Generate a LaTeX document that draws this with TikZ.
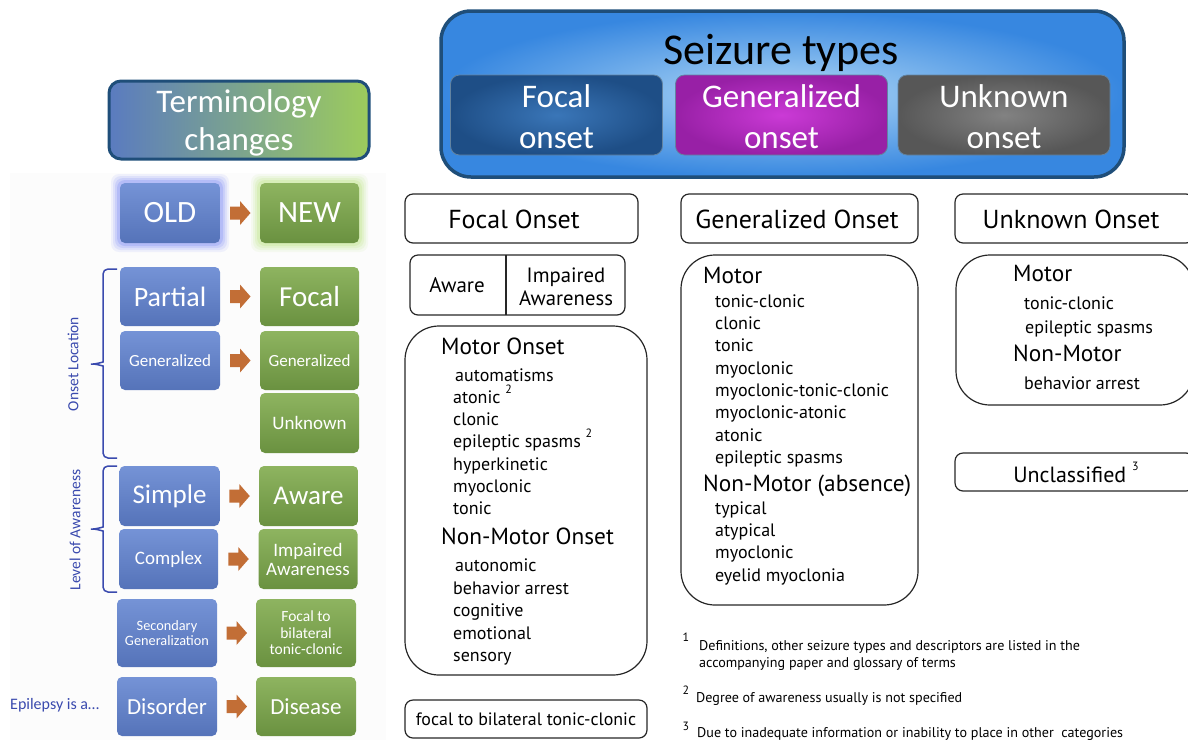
\documentclass[tikz,border=0pt]{standalone}
\usepackage{fontspec}
\setmainfont{Carlito}
\newfontfamily\rf{PT Sans}

\definecolor{navy}{HTML}{1F4E79}
\definecolor{oldtop}{HTML}{7593D6}
\definecolor{oldbot}{HTML}{5573B9}
\definecolor{newtop}{HTML}{8EB460}
\definecolor{newbot}{HTML}{6A9140}
\definecolor{arrc}{HTML}{C26E36}
\definecolor{brc}{HTML}{3A4AAE}
\definecolor{oldglow}{HTML}{7F8FF5}
\definecolor{newglow}{HTML}{BFE68A}
\definecolor{termL}{HTML}{5A7BC0}
\definecolor{termR}{HTML}{9DCC5C}
\definecolor{skyin}{HTML}{B0D8F6}
\definecolor{skyout}{HTML}{3787E0}
\definecolor{focin}{HTML}{3A76B8}
\definecolor{focout}{HTML}{1E4E86}
\definecolor{genin}{HTML}{CB3AD6}
\definecolor{genout}{HTML}{9820A6}
\definecolor{unkin}{HTML}{828282}
\definecolor{unkout}{HTML}{575757}

\newcommand{\fs}[1]{\fontsize{#1}{#1}\selectfont}
\newcommand{\fnmark}[1]{\raisebox{0.55em}{\fs{12}#1}}

\tikzset{
  tbox/.style={rounded corners=5pt, inner sep=1pt, align=center, text=white,
               minimum width=100pt, minimum height=60pt},
  oldb/.style={tbox, top color=oldtop, bottom color=oldbot},
  newb/.style={tbox, top color=newtop, bottom color=newbot},
  onsetb/.style={rounded corners=9pt, draw=navy!70, line width=0.8pt,
                 minimum width=212pt, minimum height=80pt},
  onsettext/.style={text=white, align=center, font=\fs{33}, inner sep=0pt},
  rbox/.style={draw=black!85, line width=1.2pt, rounded corners=8pt},
  bigbox/.style={draw=black!85, line width=1.2pt, rounded corners=34pt},
  rhead/.style={font=\rf\fs{26}, inner sep=0pt},
  rsub/.style={font=\rf\fs{23.3}, anchor=mid west, inner sep=0pt, yshift=-5pt},
  ritem/.style={font=\rf\fs{18}, anchor=mid west, inner sep=0pt, yshift=-3pt},
  fnote/.style={font=\rf\fs{14.1}, anchor=mid west, inner sep=0pt, yshift=-3pt},
  fnnum/.style={font=\rf\fs{12}, inner sep=0pt},
  brlabel/.style={rotate=90, text=brc, font=\fs{15.5}, inner sep=0pt},
  bracket/.style={brc, line width=1.5pt, rounded corners=5pt}
}

\begin{document}
\begin{tikzpicture}[x=1pt,y=-1pt]
\useasboundingbox (0,0) rectangle (1188,740);
\clip (0,0) rectangle (1188,740);

% ---------- left: terminology changes ----------
\fill[black!1] (10,173) rectangle (386,740);

\node[rounded corners=12pt, draw=navy, line width=3pt, left color=termL, right color=termR,
      minimum width=260pt, minimum height=78pt] (term) at (239,120) {};
\node[text=white, align=center, font=\fs{33}, inner sep=0pt] (termtext) at (239,123)
      {Terminology\\[5pt]changes};

% glows behind OLD / NEW
\foreach \k/\o in {9/0.10,7/0.15,5/0.2,3/0.3} {
  \fill[oldglow, opacity=\o, rounded corners=8pt] (120-\k,183-\k) rectangle (220+\k,243+\k);
  \fill[newglow, opacity=\o, rounded corners=8pt] (260-\k,183-\k) rectangle (359+\k,243+\k);
}

\node[oldb, font=\fs{31}] (old) at (170,213) {OLD};
\node[newb, font=\fs{31}, minimum width=99pt] (new) at (309.5,213) {NEW};

\node[oldb, font=\fs{28}, minimum height=59pt] (partial) at (170,296.5) {Partial};
\node[newb, font=\fs{29}, minimum width=99pt, minimum height=59pt] (focal) at (309.5,296.5) {Focal};

\node[oldb, font=\fs{17}, minimum height=59pt] (genold) at (170,360.5) {Generalized};
\node[newb, font=\fs{17}, minimum width=99pt, minimum height=59pt] (gennew) at (309.5,360.5) {Generalized};

\node[newb, font=\fs{19}, minimum width=99pt] (unknew) at (309.5,423) {Unknown};

\node[oldb, font=\fs{27}] (simple) at (169.5,496) {Simple};
\node[newb, font=\fs{27}, minimum width=99pt] (aware) at (308.5,496) {Aware};

\node[oldb, font=\fs{19}, minimum width=99pt] (complex) at (168.5,559) {Complex};
\node[newb, font=\fs{19}, minimum width=99pt] (impaired) at (308,559) {Impaired\\Awareness};

\node[oldb, font=\fs{14.3}, minimum height=68pt] (second) at (167,633) {Secondary\\Generalization};
\node[newb, font=\fs{15.5}, minimum height=68pt] (fbtc) at (306,633) {Focal to\\[1pt]bilateral\\[1pt]tonic-clonic};

\node[oldb, font=\fs{23}, minimum height=59pt] (disorder) at (167,706.5) {Disorder};
\node[newb, font=\fs{23}, minimum height=59pt] (disease) at (306,706.5) {Disease};

% block arrows old -> new, placed midway between each pair
\foreach \a/\b in {old/new,partial/focal,genold/gennew,simple/aware,complex/impaired,second/fbtc,disorder/disease} {
  \path (\a) -- (\b) coordinate[midway] (m-\a);
  \fill[arrc, shift={(m-\a)}] (-10,-6.5) -- (0,-6.5) -- (0,-12) -- (10.5,0)
        -- (0,12) -- (0,6.5) -- (-10,6.5) -- cycle;
}

% square-ended braces
\draw[bracket] (117,269) -- (103,269) -- (103,357)
  .. controls (103,362) and (96,364) .. (88,364)
  .. controls (96,364) and (103,366) .. (103,371) -- (103,458) -- (117,458);
\draw[bracket] (117,466) -- (103,466) -- (103,522)
  .. controls (103,527) and (96,529) .. (88,529)
  .. controls (96,529) and (103,531) .. (103,536) -- (103,592) -- (117,592);
\node[brlabel] (onsetloc) at (73,364) {Onset Location};
\node[brlabel] (levaw) at (75,530) {Level of Awareness};

\node[text=brc, font=\fs{16}, anchor=mid west, inner sep=0pt] (epi) at (10,707) {Epilepsy is a\ldots};

% ---------- top: seizure types ----------
\node[rounded corners=30pt, draw=navy, line width=3.5pt, shading=radial,
      inner color=skyin, outer color=skyout,
      minimum width=683pt, minimum height=166pt] (types) at (782.5,94) {};
\node[font=\fs{44}, inner sep=0pt] (typestitle) at (781,53) {Seizure types};

\node[onsetb, shading=radial, inner color=focin, outer color=focout] (fo) at (556.5,115) {};
\node[onsetb, shading=radial, inner color=genin, outer color=genout] (go) at (781.5,115) {};
\node[onsetb, shading=radial, inner color=unkin, outer color=unkout] (uo) at (1004,115) {};
\node[onsettext] (fotext) at (556.5,117) {Focal\\[8pt]onset};
\node[onsettext] (gotext) at (781.5,117) {Generalized\\[8pt]onset};
\node[onsettext] (uotext) at (1004,117) {Unknown\\[8pt]onset};

% ---------- right: focal onset column ----------
\draw[rbox] (405,194) rectangle (638,243);
\node[rhead] (fohead) at (514,219) {Focal Onset};

\draw[rbox] (410,255) rectangle (625,315);
\draw[black!85, line width=1.2pt] (506,255) -- (506,315);
\node[font=\rf\fs{21}, inner sep=0pt] (awr) at (457,285) {Aware};
\node[font=\rf\fs{20.7}, inner sep=0pt, align=center] (impw) at (566,287) {Impaired\\[2pt]Awareness};

\draw[bigbox] (405,326) rectangle (647,675);
\node[rsub] (motoron) at (441,347) {Motor Onset};
\node[ritem] at (455,376) {automatisms};
\node[ritem] at (453,398) {atonic \fnmark{2}};
\node[ritem] at (453,420) {clonic};
\node[ritem] at (453,442) {epileptic spasms \fnmark{2}};
\node[ritem] at (453,465) {hyperkinetic};
\node[ritem] at (453,487) {myoclonic};
\node[ritem] at (453,509) {tonic};
\node[rsub] (nonmotoron) at (441,537) {Non-Motor Onset};
\node[ritem] at (455,566) {autonomic};
\node[ritem] at (453,589) {behavior arrest};
\node[ritem] at (453,611) {cognitive};
\node[ritem] at (453,634) {emotional};
\node[ritem] at (453,656) {sensory};

\draw[rbox] (405,700) rectangle (647,738);
\node[font=\rf\fs{17.9}, inner sep=0pt] (fbtcr) at (526,719) {focal to bilateral tonic-clonic};

% ---------- right: generalized onset column ----------
\draw[rbox] (681,194) rectangle (918,243);
\node[rhead] (gohead) at (797,219) {Generalized Onset};

\draw[bigbox] (681,255) rectangle (918,605);
\node[rsub] (gmotor) at (703,276) {Motor};
\node[ritem] at (715,302) {tonic-clonic};
\node[ritem] at (715,324) {clonic};
\node[ritem] at (715,346) {tonic};
\node[ritem] at (715,369) {myoclonic};
\node[ritem] at (715,391) {myoclonic-tonic-clonic};
\node[ritem] at (715,413) {myoclonic-atonic};
\node[ritem] at (715,436) {atonic};
\node[ritem] at (715,458) {epileptic spasms};
\node[rsub] (gnonmotor) at (703,484) {Non-Motor (absence)};
\node[ritem] at (715,509) {typical};
\node[ritem] at (715,531) {atypical};
\node[ritem] at (715,553) {myoclonic};
\node[ritem] at (715,576) {eyelid myoclonia};

% ---------- right: unknown onset column ----------
\draw[rbox] (955,194) rectangle (1194,243);
\node[rhead] (uohead) at (1071,219) {Unknown Onset};

\draw[bigbox] (956,255) rectangle (1194,405);
\node[rsub] (umotor) at (1013,274) {Motor};
\node[ritem] at (1024,304) {tonic-clonic};
\node[ritem] at (1025,328) {epileptic spasms};
\node[rsub] (unonmotor) at (1013,354) {Non-Motor};
\node[ritem] at (1024,384) {behavior arrest};

\draw[rbox] (955,453) rectangle (1194,491);
\node[font=\rf\fs{22}, inner sep=0pt] (uncl) at (1076,472) {Unclassified \fnmark{3}};

% ---------- footnotes ----------
\node[fnnum] (n1) at (686,637) {1};
\node[fnote] (fn1a) at (699,645) {Definitions, other seizure types and descriptors are listed in the};
\node[fnote] (fn1b) at (699,662) {accompanying paper and glossary of terms};
\node[fnnum] (n2) at (686,690) {2};
\node[fnote] (fn2) at (696,697) {Degree of awareness usually is not specified};
\node[fnnum] (n3) at (686,726) {3};
\node[fnote] (fn3) at (697,732) {Due to inadequate information or inability to place in other\ \ categories};
\end{tikzpicture}
\end{document}
